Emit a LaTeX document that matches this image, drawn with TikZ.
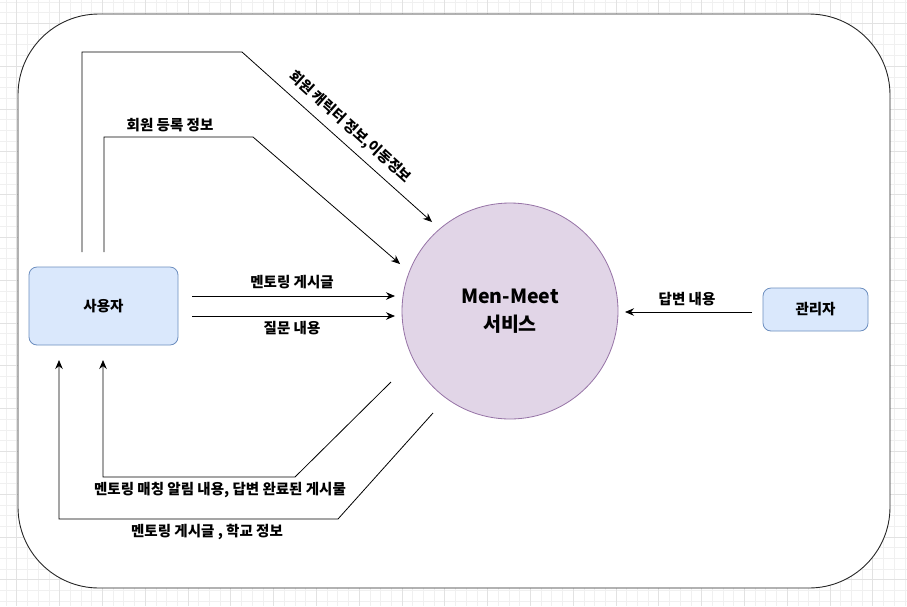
\documentclass[tikz,border=0pt]{standalone}
\usepackage{fontspec}
\setmainfont{Noto Sans CJK KR}
\usetikzlibrary{arrows.meta}
\definecolor{userfill}{HTML}{DAE8FC}
\definecolor{userline}{HTML}{6C8EBF}
\definecolor{svcfill}{HTML}{E1D5E7}
\definecolor{svcline}{HTML}{9673A6}
\definecolor{gridminor}{HTML}{F0F0F0}
\definecolor{gridmajor}{HTML}{E2E2E2}
\begin{document}
\begin{tikzpicture}[x=1pt,y=-1pt,
  font=\bfseries\fontsize{14.5}{17}\selectfont,
  flow/.style={draw, line width=0.8pt, -{Stealth[length=9pt,width=7.5pt]}},
  lbl/.style={inner sep=0pt, anchor=center},
  actor/.style={draw=userline, fill=userfill, line width=0.8pt, rounded corners=8pt, inner sep=0pt}]
\useasboundingbox (0,0) rectangle (907,606);
% background grid
\foreach \i in {0,...,85} {\draw[gridminor, line width=0.6pt] ({6+10.7*\i},0) -- ({6+10.7*\i},606);}
\foreach \i in {0,...,57} {\draw[gridminor, line width=0.6pt] (0,{1.9+10.7*\i}) -- (907,{1.9+10.7*\i});}
\foreach \i in {0,...,21} {\draw[gridmajor, line width=0.6pt] ({16.7+42.8*\i},0) -- ({16.7+42.8*\i},606);}
\foreach \i in {0,...,14} {\draw[gridmajor, line width=0.6pt] (0,{23.3+42.8*\i}) -- (907,{23.3+42.8*\i});}
% frame
\node[draw=black!85, fill=white, line width=0.9pt, rounded corners=81pt,
  minimum width=872pt, minimum height=574pt, inner sep=0pt] (frame) at (454,301) {};
% nodes
\node[actor, minimum width=149pt, minimum height=78pt] (user) at (103.5,306) {사용자};
\node[actor, minimum width=105pt, minimum height=43pt] (admin) at (815.5,309.5) {관리자};
\node[circle, draw=svcline, fill=svcfill, line width=0.8pt, minimum size=216pt, inner sep=0pt,
  align=center, font=\bfseries\fontsize{19.5}{28}\selectfont] (svc) at (510,311) {Men-Meet\\서비스};
% connector coordinates
\coordinate (a1s) at (82,252);   \coordinate (a1e) at (432,222);
\coordinate (a2s) at (104,252);  \coordinate (a2e) at (400,264);
\coordinate (a3s) at (192,296);  \coordinate (a3e) at (395,296);
\coordinate (a4s) at (192,316);  \coordinate (a4e) at (395,316);
\coordinate (a5s) at (752,312);  \coordinate (a5e) at (625,312);
\coordinate (a6s) at (391,382);  \coordinate (a6e) at (103,360);
\coordinate (a7s) at (433,413);  \coordinate (a7e) at (59,360);
% connectors
\draw[flow] (a1s) -- (82,52) -- (242,52) -- (a1e);
\draw[flow] (a2s) -- (104,137) -- (253,137) -- (a2e);
\draw[flow] (a3s) -- (a3e);
\draw[flow] (a4s) -- (a4e);
\draw[flow] (a5s) -- (a5e);
\draw[flow] (a6s) -- (295,477) -- (103,477) -- (a6e);
\draw[flow] (a7s) -- (338,519) -- (59,519) -- (a7e);
% labels
\node[lbl, rotate=-42] (l1) at (350,127) {회원 캐릭터 정보,이동정보};
\node[lbl] (l2) at (170,125) {회원 등록 정보};
\node[lbl] (l3) at (292,282) {멘토링 게시글};
\node[lbl] (l4) at (292,328) {질문 내용};
\node[lbl] (l5) at (687,299) {답변 내용};
\node[lbl] (l6) at (220,490) {멘토링 매칭 알림 내용, 답변 완료된 게시물};
\node[lbl] (l7) at (207,532) {멘토링 게시글 , 학교 정보};
\end{tikzpicture}
\end{document}
